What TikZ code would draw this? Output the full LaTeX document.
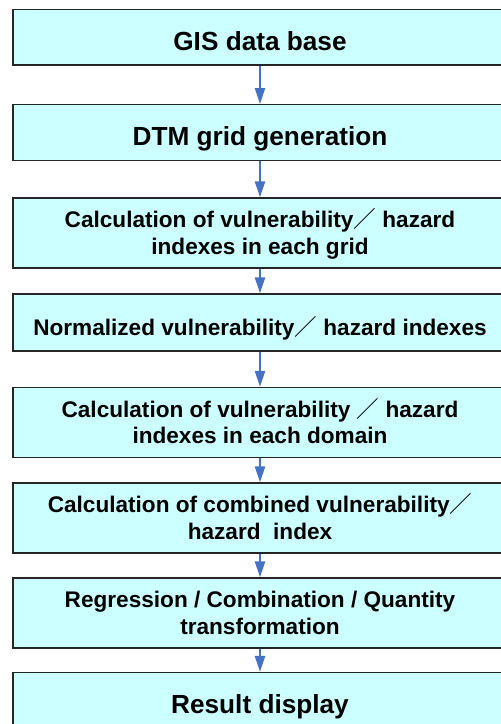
\documentclass[tikz,border=0pt]{standalone}
\usepackage{fontspec}
\setmainfont{Liberation Sans}
\newfontfamily\cjk{Noto Sans CJK SC}
\usetikzlibrary{arrows.meta}
\definecolor{boxcyan}{RGB}{204,255,255}
\definecolor{flowblue}{RGB}{68,114,196}
% full-width slash from the CJK font
\newcommand{\wsl}{{\cjk\mdseries ／}}
\tikzset{
    stage/.style={
        draw=black!85,
        line width=1.2pt,
        fill=boxcyan,
        minimum width=494pt,
        inner sep=0pt,
        align=center,
        font=\bfseries\fontsize{22.6}{26.4}\selectfont
    },
    % fixed text boxes so the baselines land where wanted
    single/.style={text height=26pt, text depth=0pt},
    twoline/.style={text height=42.5pt, text depth=0pt},
    big/.style={single, font=\bfseries\fontsize{26.2}{30}\selectfont},
    flow/.style={
        draw=flowblue,
        line width=2pt,
        -{Triangle[length=16pt, width=10pt]}
    },
}

\begin{document}
\begin{tikzpicture}[x=1pt, y=1pt]
    \useasboundingbox (0,0) rectangle (501,-724);
    \clip (0,0) rectangle (501,-724);

    % Stages, top to bottom
    \node[stage, big, minimum height=55.5pt] (gis) at (260,-37.25) {GIS data base};
    \node[stage, big, minimum height=56pt] (dtm) at (260,-132.6) {DTM grid generation};
    \node[stage, twoline, minimum height=70pt] (gridcalc) at (260,-233)
      {Calculation of vulnerability\wsl{} hazard\\indexes in each grid};
    \node[stage, single, minimum height=57pt] (norm) at (260,-322.5)
      {Normalized vulnerability\wsl{} hazard indexes};
    \node[stage, twoline, minimum height=70pt] (domcalc) at (260,-422.5)
      {Calculation of vulnerability \wsl{} hazard\\indexes in each domain};
    \node[stage, twoline, minimum height=70pt] (combcalc) at (260,-518)
      {Calculation of combined vulnerability\wsl\\hazard~~index};
    \node[stage, twoline, minimum height=70pt] (regr) at (260,-613)
      {Regression / Combination / Quantity\\transformation};
    \node[stage, big, minimum height=55pt] (result) at (260,-700) {Result display};

    % Arrows between stages
    \foreach \a/\b in {gis/dtm, dtm/gridcalc, gridcalc/norm, norm/domcalc,
                       domcalc/combcalc, combcalc/regr, regr/result}
      \draw[flow] (\a) -- (\b);

\end{tikzpicture}
\end{document}
